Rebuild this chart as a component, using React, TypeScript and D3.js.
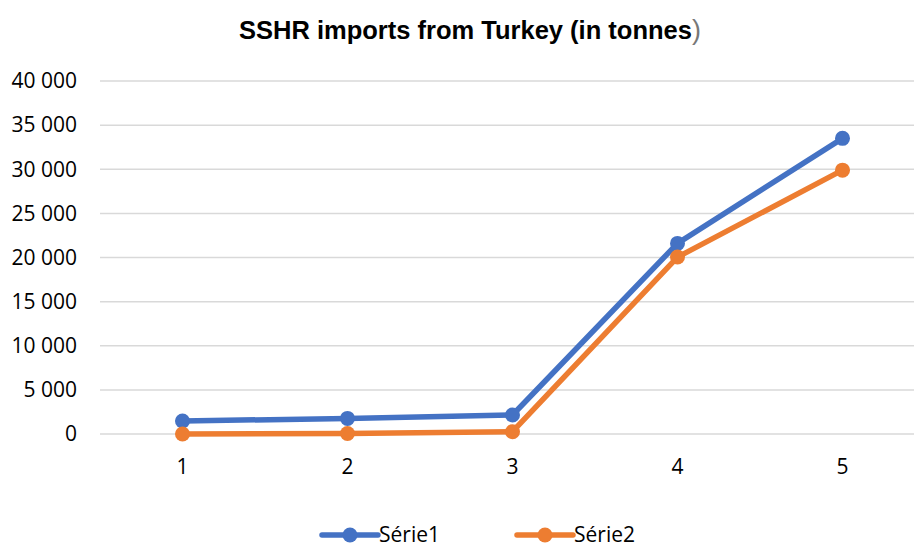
import React from 'react';
import * as d3 from 'd3';

const categories = ['1', '2', '3', '4', '5'];
const serie1 = [1470, 1770, 2150, 21600, 33500];
const serie2 = [0, 50, 260, 20050, 29900];
const yTicks = [0, 5000, 10000, 15000, 20000, 25000, 30000, 35000, 40000];
const seriesNames = ['Série1', 'Série2'];
const colors = ['#4472C4', '#ED7D31'];

const width = 914;
const height = 548;
const font = '"Open Sans", "Noto Sans", sans-serif';

const App = () => {
  const x = d3.scaleBand().domain(categories).range([100, 925]).padding(0);
  const y = d3.scaleLinear().domain([0, 40000]).range([434, 81]);
  const fmt = (v: number) => d3.format(',')(v).replace(/,/g, ' ');

  const line = d3
    .line<number>()
    .x((_, i) => x(categories[i])! + x.bandwidth() / 2)
    .y((d) => y(d));

  const allSeries = [serie1, serie2];

  return (
    <svg
      width={width}
      height={height}
      style={{ position: 'absolute', left: 0, top: 0, background: '#fff' }}
    >
      <text
        x={470}
        y={39}
        textAnchor="middle"
        fontFamily='"Liberation Sans", Arial, sans-serif'
        fontSize={25.5}
        fontWeight="bold"
        fill="#000"
      >
        SSHR imports from Turkey (in tonnes
        <tspan fontWeight="normal" fill="#777" fontSize={27}>)</tspan>
      </text>

      {yTicks.map((t) => (
        <g key={t}>
          <line x1={100} x2={925} y1={y(t)} y2={y(t)} stroke="#D9D9D9" strokeWidth={1.5} />
          <text
            x={77}
            y={y(t)}
            dy="0.35em"
            textAnchor="end"
            fontFamily={font}
            fontSize={21}
            fill="#000"
          >
            {fmt(t)}
          </text>
        </g>
      ))}

      {categories.map((c) => (
        <text
          key={c}
          x={x(c)! + x.bandwidth() / 2}
          y={474}
          textAnchor="middle"
          fontFamily={font}
          fontSize={21}
          fill="#000"
        >
          {c}
        </text>
      ))}

      {allSeries.map((s, si) => (
        <g key={si}>
          <path
            d={line(s) ?? ''}
            fill="none"
            stroke={colors[si]}
            strokeWidth={5.5}
            strokeLinejoin="round"
            strokeLinecap="round"
          />
          {s.map((v, i) => (
            <circle
              key={i}
              cx={x(categories[i])! + x.bandwidth() / 2}
              cy={y(v)}
              r={7.5}
              fill={colors[si]}
            />
          ))}
        </g>
      ))}

      {seriesNames.map((n, i) => {
        const lx = 322 + i * 195;
        return (
          <g key={n}>
            <line x1={lx} x2={lx + 56} y1={535} y2={535} stroke={colors[i]} strokeWidth={5.5} strokeLinecap="round" />
            <circle cx={lx + 28} cy={535} r={7.5} fill={colors[i]} />
            <text
              x={lx + 57}
              y={535}
              dy="0.35em"
              fontFamily={font}
              fontSize={21}
              fill="#000"
            >
              {n}
            </text>
          </g>
        );
      })}
    </svg>
  );
};

export default App;
